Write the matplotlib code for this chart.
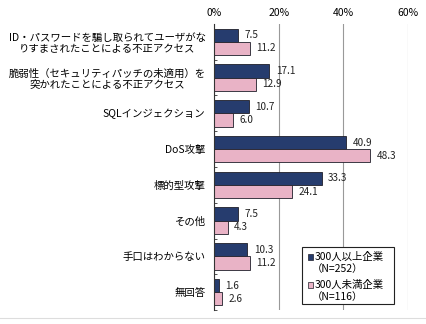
import matplotlib
matplotlib.use("Agg")
import matplotlib.pyplot as plt
from matplotlib.patches import Rectangle
import numpy as np

plt.rcParams['font.family'] = ['Noto Sans CJK JP', 'DejaVu Sans']

categories = [
    "ID・パスワードを騙し取られてユーザがな\nりすまされたことによる不正アクセス",
    "脆弱性（セキュリティパッチの未適用）を\n突かれたことによる不正アクセス",
    "SQLインジェクション",
    "DoS攻撃",
    "標的型攻撃",
    "その他",
    "手口はわからない",
    "無回答",
]
large_firms = [7.5, 17.1, 10.7, 40.9, 33.3, 7.5, 10.3, 1.6]
small_firms = [11.2, 12.9, 6.0, 48.3, 24.1, 4.3, 11.2, 2.6]
series_names = ["300人以上企業", "300人未満企業"]
series_counts = ["（N=252）", "（N=116）"]
tick_values = [0, 20, 40, 60]
tick_labels = ["0%", "20%", "40%", "60%"]

navy = "#263c6e"
pink = "#e9b3c6"
edge = "#1f1f2a"

fig = plt.figure(figsize=(4.27, 3.24), dpi=100)
ax = fig.add_axes([0.501, 0.043, 0.4545, 0.883])

n = len(categories)
y = np.arange(n)
h = 0.37
b1 = ax.barh(y - h / 2, large_firms, height=h, color=navy, edgecolor=edge, linewidth=0.6)
b2 = ax.barh(y + h / 2, small_firms, height=h, color=pink, edgecolor=edge, linewidth=0.6)

for bars, vals in ((b1, large_firms), (b2, small_firms)):
    for rect, v in zip(bars, vals):
        ax.text(v + 2.0, rect.get_y() + rect.get_height() / 2, f"{v:.1f}",
                va="center", ha="left", fontsize=7.2, color="#222222")

ax.set_xlim(0, 60)
ax.set_ylim(n - 0.5, -0.5)
ax.xaxis.tick_top()
ax.set_xticks(tick_values)
ax.set_xticklabels(tick_labels, fontsize=7.5)
ax.tick_params(axis="x", length=0, pad=4)
ax.grid(axis="x", color="#999999", linewidth=0.8)
ax.set_axisbelow(True)

ax.set_yticks(y)
ax.set_yticklabels(categories, fontsize=7.5, multialignment="center")
ax.tick_params(axis="y", length=0, pad=6)
ax.set_yticks(np.arange(n) + 0.5, minor=True)
ax.tick_params(axis="y", which="minor", length=2, direction="in", color="#333333")

for s in ["top", "right", "bottom"]:
    ax.spines[s].set_visible(False)
ax.spines["left"].set_color("#333333")
ax.spines["left"].set_linewidth(0.8)

# legend box drawn by hand so the swatch sits beside the first text line
tr = ax.get_xaxis_transform()
frame = Rectangle((27.2, 0.021), 28.5, 0.199, transform=tr, facecolor="white",
                  edgecolor="#222222", linewidth=0.8, zorder=5)
ax.add_patch(frame)
for i, (name, cnt, col) in enumerate(zip(series_names, series_counts, (navy, pink))):
    yt = 0.185 - i * 0.098
    ax.add_patch(Rectangle((29.2, yt - 0.011), 1.3, 0.022, transform=tr,
                           facecolor=col, edgecolor=edge, linewidth=0.5, zorder=6))
    ax.text(31.0, yt, name, transform=tr, fontsize=7.5, va="center", ha="left", zorder=6)
    ax.text(30.3, yt - 0.043, cnt, transform=tr, fontsize=7.5, va="center", ha="left", zorder=6)

fig.lines.append(plt.Line2D([0.0, 1.0], [0.018, 0.018], transform=fig.transFigure,
                            color="#dddddd", linewidth=0.8))

fig.savefig("out.png", dpi=100)
